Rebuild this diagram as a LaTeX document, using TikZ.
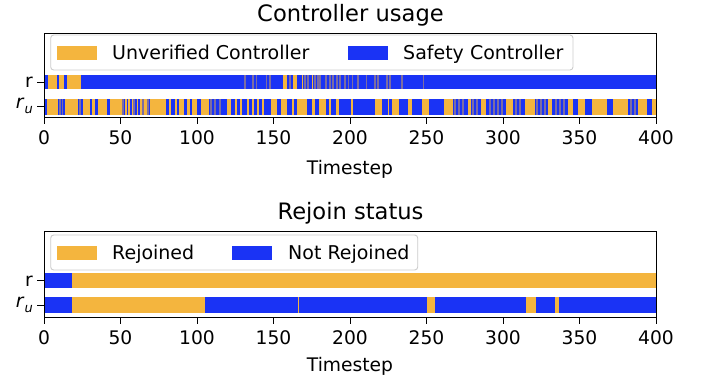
\documentclass[tikz,border=0pt]{standalone}
\usepackage{fontspec}
\setmainfont{DejaVu Sans}
\definecolor{ctrlorange}{RGB}{244,181,62}
\definecolor{ctrlblue}{RGB}{26,51,245}
\definecolor{legendedge}{RGB}{204,204,204}

% fill a list of horizontal segments a/b between y=#2 and y=#3
\newcommand\segments[4]{%
  \foreach \a/\b in {#4} {\fill[#1] (\a,#2) rectangle (\b,#3);}%
}
\newcommand\subu{\textit{r}\raisebox{-0.28em}{\fontsize{13}{13}\selectfont\textit{u}}}

\begin{document}
\begin{tikzpicture}[x=1pt,y=-1pt,
  spine/.style={line width=0.95pt, draw=black},
  tickmark/.style={line width=0.95pt},
  ticklbl/.style={font=\fontsize{18.7}{20}\selectfont, inner sep=0pt},
  axlbl/.style={font=\fontsize{18.7}{20}\selectfont, inner sep=0pt, anchor=base},
  titlelbl/.style={font=\fontsize{22.6}{24}\selectfont, inner sep=0pt, anchor=base},
  legendbox/.style={draw=legendedge, line width=0.9pt, fill=white, fill opacity=0.8, rounded corners=3pt},
  legtext/.style={font=\fontsize{19}{20}\selectfont, inner sep=0pt, anchor=base west},
  mixstripe/.style={ctrlorange, opacity=0.45},
]
\useasboundingbox (0,0) rectangle (701,383);
\fill[white] (0,0) rectangle (701,383);

% ===================== Controller usage =====================
\node[titlelbl] (t1) at (350.5,21) {Controller usage};

% r: mostly safety controller
\fill[ctrlblue] (44,74.7) rectangle (656,89.3);
\segments{ctrlorange}{74.7}{89.3}{48.3/56.7, 59.3/64.3, 66.7/81,
  283/287, 293/297, 301.7/303.3, 311.7/313.3}
\foreach \s in {245,253,256.7,266.7,270,290,305,308,315,318,320,326,330,333,337,340,345,348.7,352.7,358,366.5,375,378,387,390,402,423.7}
  {\fill[mixstripe] (\s-0.6,74.7) rectangle (\s+0.6,89.3);}

% r_u: switching between both controllers
\fill[ctrlorange] (44,98.7) rectangle (656,114.7);
\segments{ctrlblue}{98.7}{114.7}{44/46.7, 58.3/65, 78.3/83.3, 90/91.7, 95/98.3, 106.7/110,
  121.7/125, 126.7/128.3, 130/131.7, 133.3/136.7, 138.3/140, 142/143.7, 147/150.3,
  166/168.7, 171.3/175.3, 177/179.3, 183.7/187, 190.3/192, 197/201.3, 208.7/227,
  231.3/234.7, 237/240.3, 242/247.3, 249/252.3, 254/257.3, 259/262.3, 264/270.7,
  276.7/281.3, 286.7/292.3, 294/297.3, 307.3/312.3, 314.7/319, 325.7/329, 331.3/335.7,
  339/351, 352.7/375.3, 382/387.7, 389.3/392, 398.7/407.7, 411.7/422, 429.3/444.3,
  453/468, 470.7/481.3, 486.3/506.3, 513/524.7, 535.3/548, 551.7/568.3, 573.3/578.3,
  585/591.7, 606.7/613.3, 628.3/638.3, 646.7/651.7}
\foreach \s in {60,62.5,80,123,134,143,148,211,215,220,455,459,463,473,477,490,494,498,502,516,520,537,541,545,556,560,564,631,635}
  {\fill[mixstripe] (\s-0.7,98.7) rectangle (\s+0.7,114.7);}

% legend
\draw[legendbox] (50.7,35) rectangle (573,70);
\fill[ctrlorange] (57.3,45.5) rectangle (97.3,59.5);
\node[legtext] (l1a) at (112,59.3) {Unverified Controller};
\fill[ctrlblue] (348,45.5) rectangle (388,59.5);
\node[legtext] (l1b) at (403,59.3) {Safety Controller};

% axes frame and ticks
\draw[spine] (44,33) rectangle (656,117);
\draw[tickmark] (37.4,82) -- (44,82);
\draw[tickmark] (37.4,106.7) -- (44,106.7);
\node[ticklbl, anchor=east] (y1r) at (33,82) {r};
\node[ticklbl, anchor=east] (y1u) at (33,106) {\subu};
\foreach \v [count=\i from 0] in {0,50,...,400} {
  \draw[tickmark] ({44+76.5*\i},117) -- ({44+76.5*\i},123.6);
  \node[ticklbl, anchor=base] (x1-\i) at ({44+76.5*\i},144) {\v};
}
\node[axlbl] (xl1) at (350,174) {Timestep};

% ===================== Rejoin status =====================
\node[titlelbl] (t2) at (350.5,219.5) {Rejoin status};

% r
\fill[ctrlorange] (44,273.3) rectangle (656,288.3);
\fill[ctrlblue] (44,273.3) rectangle (71.5,288.3);

% r_u
\fill[ctrlorange] (44,297.3) rectangle (656,313.3);
\segments{ctrlblue}{297.3}{313.3}{44/71.5, 205/297.5, 299/427.3, 435/525.7, 535.7/555, 559/656}

% legend
\draw[legendbox] (50.7,235) rectangle (417.7,270);
\fill[ctrlorange] (57.3,245.5) rectangle (97.3,259.5);
\node[legtext] (l2a) at (112,259.3) {Rejoined};
\fill[ctrlblue] (232.3,245.5) rectangle (272.3,259.5);
\node[legtext] (l2b) at (288,259.3) {Not Rejoined};

% axes frame and ticks
\draw[spine] (44,231) rectangle (656,317);
\draw[tickmark] (37.4,280.8) -- (44,280.8);
\draw[tickmark] (37.4,305.3) -- (44,305.3);
\node[ticklbl, anchor=east] (y2r) at (33,280.8) {r};
\node[ticklbl, anchor=east] (y2u) at (33,304.6) {\subu};
\foreach \v [count=\i from 0] in {0,50,...,400} {
  \draw[tickmark] ({44+76.5*\i},317) -- ({44+76.5*\i},323.6);
  \node[ticklbl, anchor=base] (x2-\i) at ({44+76.5*\i},344.5) {\v};
}
\node[axlbl] (xl2) at (350,371) {Timestep};
\end{tikzpicture}
\end{document}
